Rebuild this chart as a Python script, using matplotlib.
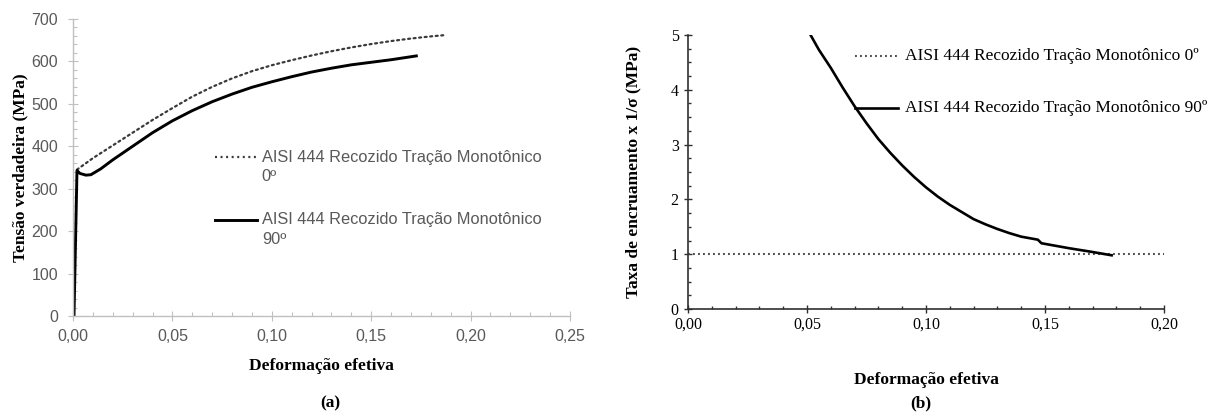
import matplotlib
matplotlib.use("Agg")
import matplotlib.pyplot as plt
from matplotlib.lines import Line2D
from matplotlib.ticker import MultipleLocator, FuncFormatter

# (a) true stress-strain, AISI 444 annealed, monotonic tension
STRAIN_0 = [0.002, 0.010, 0.020, 0.030, 0.040, 0.050, 0.060, 0.070, 0.080, 0.090,
            0.100, 0.110, 0.120, 0.130, 0.140, 0.150, 0.160, 0.170, 0.180, 0.187]
STRESS_0 = [345, 372, 402, 432, 462, 490, 517, 540, 560, 577,
            591, 603, 614, 624, 633, 641, 648, 654, 659, 662]

STRAIN_90 = [0.0005, 0.0020, 0.0035, 0.0065, 0.0090, 0.014, 0.020, 0.025, 0.030, 0.035,
             0.040, 0.045, 0.050, 0.060, 0.070, 0.080, 0.090, 0.100, 0.110, 0.120,
             0.130, 0.140, 0.150, 0.160, 0.1727]
STRESS_90 = [0, 343, 336, 332, 333, 347, 368, 384, 400, 416,
             432, 446, 460, 484, 505, 523, 539, 552, 564, 575,
             584, 592, 598, 604, 613]

# (b) work-hardening rate x 1/sigma
RATE_STRAIN_0 = [0.0, 0.200]
RATE_0 = [1.0, 1.0]

RATE_STRAIN_90 = [0.0515, 0.0550, 0.0600, 0.0650, 0.0700, 0.0750, 0.0800, 0.0850,
                  0.0900, 0.0950, 0.1000, 0.1050, 0.1100, 0.1150, 0.1200, 0.1250,
                  0.1300, 0.1350, 0.1400, 0.1470, 0.1485, 0.1600, 0.1700, 0.1780]
RATE_90 = [5.00, 4.73, 4.40, 4.04, 3.70, 3.39, 3.10, 2.85,
           2.62, 2.41, 2.22, 2.05, 1.90, 1.77, 1.64, 1.545,
           1.46, 1.385, 1.32, 1.265, 1.20, 1.11, 1.04, 0.98]

LABEL_0 = "AISI 444 Recozido Tração Monotônico"
SUFFIX_0 = "0º"
SUFFIX_90 = "90º"

SANS = ["Liberation Sans", "DejaVu Sans"]
SERIF = ["Liberation Serif", "DejaVu Serif"]

comma = FuncFormatter(lambda v, _: f"{v:.2f}".replace(".", ","))

fig = plt.figure(figsize=(12.10, 4.16), dpi=100)

# ---------------- (a) ----------------
ax1 = fig.add_axes([73 / 1210, 1 - 316 / 416, 497 / 1210, 297 / 416])
ax1.plot(STRAIN_0, STRESS_0, color="#3a3a3a", lw=1.6, ls=(0, (0.9, 1.6)),
         dash_capstyle="round")
ax1.plot(STRAIN_90, STRESS_90, color="black", lw=2.1)
ax1.set_xlim(0, 0.25)
ax1.set_ylim(0, 700)
ax1.xaxis.set_major_locator(MultipleLocator(0.05))
ax1.xaxis.set_minor_locator(MultipleLocator(0.01))
ax1.yaxis.set_major_locator(MultipleLocator(100))
ax1.yaxis.set_minor_locator(MultipleLocator(20))
ax1.xaxis.set_major_formatter(comma)
for s in ("top", "right"):
    ax1.spines[s].set_visible(False)
for s in ("left", "bottom"):
    ax1.spines[s].set_color("#c0c0c0")
    ax1.spines[s].set_linewidth(1.0)
ax1.tick_params(which="major", direction="inout", length=6.5, width=0.8,
                color="#c0c0c0", labelcolor="#595959", labelsize=11.5)
ax1.tick_params(axis="x", which="major", pad=6)
ax1.tick_params(axis="y", which="major", pad=7.5)
ax1.tick_params(which="minor", direction="in", length=3, width=0.8, color="#c0c0c0")
for lbl in ax1.get_xticklabels() + ax1.get_yticklabels():
    lbl.set_family(SANS)
ax1.set_xlabel("Deformação efetiva", family=SERIF, fontweight="bold",
               fontsize=12.5, labelpad=10)
ax1.set_ylabel("Tensão verdadeira (MPa)", family=SERIF, fontweight="bold",
               fontsize=12.5, labelpad=2)

# legend of (a): handle aligned with first text line
for y_line, y_sub, style, suffix in ((0.534, 0.470, "dot", SUFFIX_0),
                                     (0.324, 0.256, "solid", SUFFIX_90)):
    if style == "dot":
        h = Line2D([0.285, 0.370], [y_line, y_line], transform=ax1.transAxes,
                   color="#3a3a3a", lw=1.6, ls=(0, (0.9, 1.6)))
    else:
        h = Line2D([0.285, 0.370], [y_line, y_line], transform=ax1.transAxes,
                   color="black", lw=2.1)
    ax1.add_line(h)
    ax1.text(0.380, y_line, LABEL_0, transform=ax1.transAxes, family=SANS,
             fontsize=11.8, color="#595959", va="center", ha="left")
    ax1.text(0.380, y_sub, suffix, transform=ax1.transAxes, family=SANS,
             fontsize=11.8, color="#595959", va="center", ha="left")

fig.text(330 / 1210, 1 - 403 / 416, "(a)", family=SERIF, fontweight="bold",
         fontsize=12.5, ha="center", va="center")

# ---------------- (b) ----------------
ax2 = fig.add_axes([688 / 1210, 1 - 309 / 416, 476 / 1210, 274 / 416])
ax2.plot(RATE_STRAIN_0, RATE_0, color="#505050", lw=1.5, ls=(0, (0.9, 1.5)))
ax2.plot(RATE_STRAIN_90, RATE_90, color="black", lw=1.9)
ax2.set_xlim(0, 0.20)
ax2.set_ylim(0, 5)
ax2.xaxis.set_major_locator(MultipleLocator(0.05))
ax2.xaxis.set_minor_locator(MultipleLocator(0.01))
ax2.yaxis.set_major_locator(MultipleLocator(1))
ax2.yaxis.set_minor_locator(MultipleLocator(0.25))
ax2.xaxis.set_major_formatter(comma)
for s in ("top", "right"):
    ax2.spines[s].set_visible(False)
for s in ("left", "bottom"):
    ax2.spines[s].set_color("#303030")
    ax2.spines[s].set_linewidth(1.2)
ax2.tick_params(which="major", direction="inout", length=5.5, width=1.0,
                color="#303030", labelcolor="black", labelsize=11.5)
ax2.tick_params(axis="x", which="major", pad=3)
ax2.tick_params(axis="y", which="major", pad=4)
ax2.tick_params(which="minor", direction="in", length=2.2, width=1.0, color="#303030")
for lbl in ax2.get_xticklabels() + ax2.get_yticklabels():
    lbl.set_family(SERIF)
ax2.set_xlabel("Deformação efetiva", family=SERIF, fontweight="bold",
               fontsize=12.5, labelpad=28)
ax2.set_ylabel("Taxa de encruamento x 1/σ (MPa)", family=SERIF,
               fontweight="bold", fontsize=12.5, labelpad=21)

for y_line, style, suffix in ((0.923, "dot", SUFFIX_0), (0.733, "solid", SUFFIX_90)):
    if style == "dot":
        h = Line2D([0.351, 0.441], [y_line, y_line], transform=ax2.transAxes,
                   color="#505050", lw=1.5, ls=(0, (0.9, 1.5)), clip_on=False)
    else:
        h = Line2D([0.351, 0.441], [y_line, y_line], transform=ax2.transAxes,
                   color="black", lw=1.9, clip_on=False)
    ax2.add_line(h)
    ax2.text(0.455, y_line, f"{LABEL_0} {suffix}", transform=ax2.transAxes,
             family=SERIF, fontsize=12.5, color="black", va="center",
             ha="left", clip_on=False)

fig.text(921 / 1210, 1 - 403 / 416, "(b)", family=SERIF, fontweight="bold",
         fontsize=12.5, ha="center", va="center")

fig.savefig("out.png", dpi=100, facecolor="white")
